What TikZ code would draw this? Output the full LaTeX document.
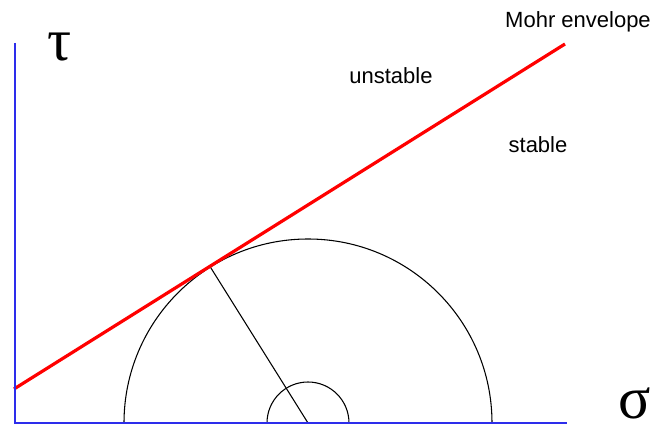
\documentclass[tikz,border=0pt]{standalone}
\usepackage{fontspec}
\setmainfont{Liberation Sans}
\newfontfamily\greekfont{Liberation Serif}
\usetikzlibrary{calc}
\definecolor{axisblue}{RGB}{45,45,235}

\begin{document}
\begin{tikzpicture}[
        x=0.75pt, y=-0.75pt,
        axis/.style={draw=axisblue, line width=1.4pt},
        envelope/.style={draw=red, line width=2.4pt},
        circ/.style={draw=black, line width=0.8pt},
        txt/.style={font=\fontsize{16.5}{20}\selectfont, anchor=base, inner sep=0pt},
        greek/.style={font=\greekfont\fontsize{45}{45}\selectfont, anchor=base, inner sep=0pt}
    ]
        \useasboundingbox (0,0) rectangle (658,427);
        % Points
        \coordinate (origin) at (15,423);
        \coordinate (tautop) at (15,43);
        \coordinate (sigmaend) at (567,423);
        \coordinate (centre) at (308,423);
        \coordinate (envstart) at (14,389);
        \coordinate (envend) at (565,44);
        \coordinate (touch) at ($(envstart)!(centre)!(envend)$);

        % Labels
        \node (tau) [greek] at (60,61) {τ};
        \node (sigma) [greek] at (635,419) {σ};
        \node (mohr) [txt] at (578,28) {Mohr envelope};
        \node (unstable) [txt] at (391,84) {unstable};
        \node (stable) [txt] at (538,153) {stable};

        % Circles
        \draw [circ] ($(centre)+(184,0)$) arc[start angle=0, end angle=-180, radius=184];
        \draw [circ] ($(centre)+(41,0)$) arc[start angle=0, end angle=-180, radius=41];
        \draw [circ] (centre) -- (touch);

        % Envelope and axes
        \draw [envelope] (envstart) -- (envend);
        \draw [axis] (tautop) -- (origin) -- (sigmaend);
    \end{tikzpicture}
\end{document}
